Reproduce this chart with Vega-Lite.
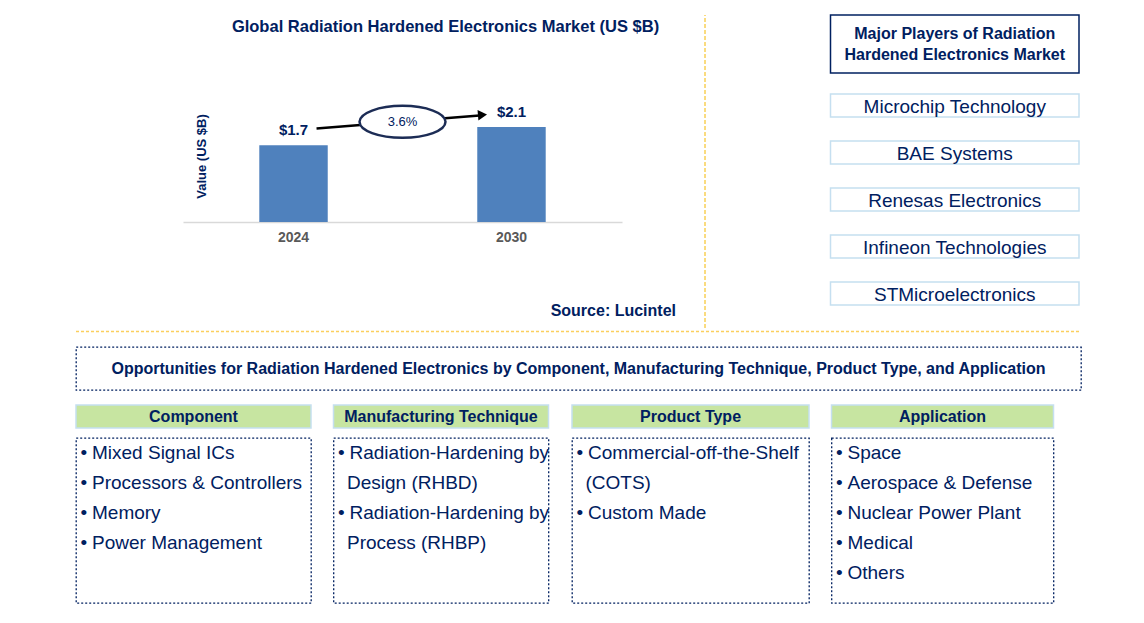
{
  "$schema": "https://vega.github.io/schema/vega-lite/v6.json",
  "background": "white",
  "padding": {"left": 75, "top": 14, "right": 0, "bottom": 0},
  "config": {"view": {"stroke": null}, "font": "Liberation Sans"},
  "datasets": {
    "market": [{"year": "2024", "value": 1.7}, {"year": "2030", "value": 2.1}],
    "cagr": [{"from": "2024", "to": "2030", "start": 1.7, "end": 2.1, "rate": "3.6%"}],
    "source": [{"text": "Source: Lucintel"}],
    "playersTitle": [{"text": "Major Players of Radiation\nHardened Electronics Market"}],
    "players": [
      {"player": "Microchip Technology"},
      {"player": "BAE Systems"},
      {"player": "Renesas Electronics"},
      {"player": "Infineon Technologies"},
      {"player": "STMicroelectronics"}
    ],
    "opportunity": [{"text": "Opportunities for Radiation Hardened Electronics by Component, Manufacturing Technique, Product Type, and Application"}],
    "segments": [
      {"segment": "Component"},
      {"segment": "Manufacturing Technique"},
      {"segment": "Product Type"},
      {"segment": "Application"}
    ],
    "lines": [
      {"segment": "Component", "line": 1, "first": true, "text": "Mixed Signal ICs"},
      {"segment": "Component", "line": 2, "first": true, "text": "Processors & Controllers"},
      {"segment": "Component", "line": 3, "first": true, "text": "Memory"},
      {"segment": "Component", "line": 4, "first": true, "text": "Power Management"},
      {"segment": "Manufacturing Technique", "line": 1, "first": true, "text": "Radiation-Hardening by"},
      {"segment": "Manufacturing Technique", "line": 2, "first": false, "text": "Design (RHBD)"},
      {"segment": "Manufacturing Technique", "line": 3, "first": true, "text": "Radiation-Hardening by"},
      {"segment": "Manufacturing Technique", "line": 4, "first": false, "text": "Process (RHBP)"},
      {"segment": "Product Type", "line": 1, "first": true, "text": "Commercial-off-the-Shelf"},
      {"segment": "Product Type", "line": 2, "first": false, "text": "(COTS)"},
      {"segment": "Product Type", "line": 3, "first": true, "text": "Custom Made"},
      {"segment": "Application", "line": 1, "first": true, "text": "Space"},
      {"segment": "Application", "line": 2, "first": true, "text": "Aerospace & Defense"},
      {"segment": "Application", "line": 3, "first": true, "text": "Nuclear Power Plant"},
      {"segment": "Application", "line": 4, "first": true, "text": "Medical"},
      {"segment": "Application", "line": 5, "first": true, "text": "Others"}
    ]
  },
  "spacing": 13,
  "vconcat": [
    {
      "spacing": 1.5,
      "vconcat": [
        {
          "spacing": 7,
          "hconcat": [
            {"width": 100, "height": 10, "view": {"fill": "white"}, "data": {"values": [{}]}, "mark": {"type": "point", "opacity": 0}},
            {
              "spacing": 123.5,
              "hconcat": [
                {
                  "spacing": 28,
                  "hconcat": [
                    {
                      "bounds": "flush",
                      "spacing": 79,
                      "vconcat": [
                        {
                          "width": 439,
                          "height": 207,
                          "view": {"fill": "white"},
                          "title": {"text": "Global Radiation Hardened Electronics Market (US $B)", "fontSize": 16.5, "fontWeight": "bold", "color": "#002060", "anchor": "middle", "dx": 43, "offset": -33, "baseline": "alphabetic"},
                          "data": {"name": "market"},
                          "encoding": {
                            "x": {"field": "year", "type": "ordinal", "scale": {"paddingInner": 0.686, "paddingOuter": 0.35},
                              "axis": {"title": null, "labelAngle": 0, "labelFontSize": 14, "labelFontWeight": "bold", "labelColor": "#595959", "labelPadding": 8, "ticks": false, "domainColor": "#d9d9d9", "domainWidth": 1.5, "grid": false}},
                            "y": {"field": "value", "type": "quantitative", "scale": {"domain": [0, 4.58], "nice": false},
                              "axis": {"title": "Value (US $B)", "labels": false, "ticks": false, "domain": false, "grid": false, "titleFontSize": 13, "titleFontWeight": "bold", "titleColor": "#002060", "titleX": 18, "titleY": 141, "titleAngle": -90, "titleAlign": "center", "titleBaseline": "middle"}}
                          },
                          "layer": [
                            {"mark": {"type": "bar", "color": "#4f81bd"}},
                            {"mark": {"type": "text", "baseline": "alphabetic", "dy": -10, "fontSize": 15, "fontWeight": "bold", "color": "#002060"},
                             "encoding": {"text": {"field": "value", "type": "quantitative", "format": "$.1f"}}},
                            {"data": {"name": "cagr"},
                             "mark": {"type": "rule", "color": "black", "strokeWidth": 2.5, "xOffset": 23, "yOffset": -16.6, "x2Offset": -32, "y2Offset": -11.7},
                             "encoding": {"x": {"field": "from", "type": "ordinal"}, "x2": {"field": "to"}, "y": {"field": "start", "type": "quantitative"}, "y2": {"field": "end"}}},
                            {"data": {"name": "cagr"},
                             "mark": {"type": "point", "shape": "triangle-right", "size": 110, "filled": true, "color": "black", "opacity": 1, "angle": -4.7, "xOffset": -29, "yOffset": -12.2},
                             "encoding": {"x": {"field": "to", "type": "ordinal"}, "y": {"field": "end", "type": "quantitative"}}},
                            {"data": {"name": "cagr"},
                             "mark": {"type": "point", "shape": "M-1,0A1,0.372,0,1,1,1,0A1,0.372,0,1,1,-1,0Z", "size": 7396, "filled": true, "fill": "white", "stroke": "#1c2c55", "strokeWidth": 2.5, "opacity": 1, "xOffset": 109, "yOffset": -23.3},
                             "encoding": {"x": {"field": "from", "type": "ordinal"}, "y": {"field": "start", "type": "quantitative"}}},
                            {"data": {"name": "cagr"},
                             "mark": {"type": "text", "fontSize": 13, "color": "#002060", "baseline": "middle", "dx": 109, "dy": -23.3},
                             "encoding": {"x": {"field": "from", "type": "ordinal"}, "y": {"field": "start", "type": "quantitative"}, "text": {"field": "rate"}}}
                          ]
                        },
                        {
                          "width": 493,
                          "height": 19,
                          "data": {"name": "source"},
                          "mark": {"type": "text", "align": "right", "baseline": "middle", "fontSize": 16, "fontWeight": "bold", "color": "#002060"},
                          "encoding": {"text": {"field": "text"}, "x": {"value": "width"}}
                        }
                      ]
                    },
                    {
                      "width": 1,
                      "height": 313,
                      "data": {"values": [{}]},
                      "mark": {"type": "rule", "color": "#f5b800", "strokeDash": [4, 2], "strokeWidth": 1},
                      "encoding": {
                        "x": {"datum": 0, "type": "quantitative", "scale": {"domain": [0, 1]}, "axis": null},
                        "y": {"datum": 0, "type": "quantitative", "scale": {"domain": [0, 1]}, "axis": null},
                        "y2": {"datum": 1}
                      }
                    }
                  ]
                },
                {
                  "spacing": 19,
                  "vconcat": [
                    {
                      "width": 248.5,
                      "height": 58,
                      "view": {"stroke": "#002060", "strokeWidth": 1.5},
                      "data": {"name": "playersTitle"},
                      "mark": {"type": "text", "fontSize": 16, "fontWeight": "bold", "color": "#002060", "lineHeight": 21, "baseline": "middle", "dy": -10.5, "lineBreak": "\n"},
                      "encoding": {"text": {"field": "text"}}
                    },
                    {
                      "width": 248.5,
                      "height": 211,
                      "data": {"name": "players"},
                      "encoding": {
                        "y": {"field": "player", "type": "nominal", "sort": null, "scale": {"paddingInner": 0.511, "paddingOuter": 0}, "axis": null}
                      },
                      "layer": [
                        {"mark": {"type": "rect", "fill": "white", "stroke": "#c5dff0", "strokeWidth": 1.5},
                         "encoding": {"x": {"datum": 0, "type": "quantitative", "scale": {"domain": [0, 1]}, "axis": null}, "x2": {"datum": 1}}},
                        {"mark": {"type": "text", "fontSize": 19, "color": "#002060", "baseline": "middle", "dy": 1.5},
                         "encoding": {"text": {"field": "player"}}}
                      ]
                    }
                  ]
                }
              ]
            }
          ]
        },
        {
          "width": 1005,
          "height": 1,
          "data": {"values": [{}]},
          "mark": {"type": "rule", "color": "#fbcf5d", "strokeDash": [3, 2], "strokeWidth": 1.5},
          "encoding": {
            "x": {"datum": 0, "type": "quantitative", "scale": {"domain": [0, 1]}, "axis": null},
            "x2": {"datum": 1},
            "y": {"datum": 1, "type": "quantitative", "scale": {"domain": [0, 1]}, "axis": null}
          }
        }
      ]
    },
    {
      "width": 1005,
      "height": 43,
      "view": {"stroke": "#002060", "strokeDash": [2, 2], "strokeWidth": 1.3},
      "data": {"name": "opportunity"},
      "mark": {"type": "text", "fontSize": 16, "fontWeight": "bold", "color": "#002060", "baseline": "middle"},
      "encoding": {"text": {"field": "text"}}
    },
    {
      "spacing": 20.5,
      "hconcat": [
        {
          "spacing": 8,
          "vconcat": [
            {"width": 235, "height": 23, "view": {"fill": "#c7e5a1", "stroke": "#c5dff0", "strokeWidth": 1.5},
             "data": {"name": "segments"}, "transform": [{"filter": "datum.segment === 'Component'"}],
             "mark": {"type": "text", "fontSize": 16, "fontWeight": "bold", "color": "#002060", "baseline": "middle"},
             "encoding": {"text": {"field": "segment"}}},
            {"width": 235, "height": 165, "view": {"stroke": "#002060", "strokeDash": [2, 2], "strokeWidth": 1.3},
             "data": {"name": "lines"}, "transform": [{"filter": "datum.segment === 'Component'"}],
             "encoding": {
               "y": {"field": "line", "type": "ordinal", "scale": {"type": "band", "domain": [1, 2, 3, 4, 5], "paddingInner": 0, "paddingOuter": 0.25, "align": 0}, "axis": null},
               "x": {"datum": 0, "type": "quantitative", "scale": {"domain": [0, 1]}, "axis": null}
             },
             "layer": [
               {"transform": [{"filter": "datum.first"}], "mark": {"type": "text", "text": "•", "align": "left", "baseline": "middle", "dx": 4.5, "fontSize": 19, "color": "#002060"}},
               {"transform": [{"filter": "datum.first"}], "mark": {"type": "text", "align": "left", "baseline": "middle", "dx": 16, "fontSize": 19, "color": "#002060"}, "encoding": {"text": {"field": "text"}}},
               {"transform": [{"filter": "!datum.first"}], "mark": {"type": "text", "align": "left", "baseline": "middle", "dx": 13.5, "fontSize": 19, "color": "#002060"}, "encoding": {"text": {"field": "text"}}}
             ]}
          ]
        },
        {
          "spacing": 8,
          "vconcat": [
            {"width": 215, "height": 23, "view": {"fill": "#c7e5a1", "stroke": "#c5dff0", "strokeWidth": 1.5},
             "data": {"name": "segments"}, "transform": [{"filter": "datum.segment === 'Manufacturing Technique'"}],
             "mark": {"type": "text", "fontSize": 16, "fontWeight": "bold", "color": "#002060", "baseline": "middle"},
             "encoding": {"text": {"field": "segment"}}},
            {"width": 215, "height": 165, "view": {"stroke": "#002060", "strokeDash": [2, 2], "strokeWidth": 1.3},
             "data": {"name": "lines"}, "transform": [{"filter": "datum.segment === 'Manufacturing Technique'"}],
             "encoding": {
               "y": {"field": "line", "type": "ordinal", "scale": {"type": "band", "domain": [1, 2, 3, 4, 5], "paddingInner": 0, "paddingOuter": 0.25, "align": 0}, "axis": null},
               "x": {"datum": 0, "type": "quantitative", "scale": {"domain": [0, 1]}, "axis": null}
             },
             "layer": [
               {"transform": [{"filter": "datum.first"}], "mark": {"type": "text", "text": "•", "align": "left", "baseline": "middle", "dx": 4.5, "fontSize": 19, "color": "#002060"}},
               {"transform": [{"filter": "datum.first"}], "mark": {"type": "text", "align": "left", "baseline": "middle", "dx": 16, "fontSize": 19, "color": "#002060"}, "encoding": {"text": {"field": "text"}}},
               {"transform": [{"filter": "!datum.first"}], "mark": {"type": "text", "align": "left", "baseline": "middle", "dx": 13.5, "fontSize": 19, "color": "#002060"}, "encoding": {"text": {"field": "text"}}}
             ]}
          ]
        },
        {
          "spacing": 8,
          "vconcat": [
            {"width": 237, "height": 23, "view": {"fill": "#c7e5a1", "stroke": "#c5dff0", "strokeWidth": 1.5},
             "data": {"name": "segments"}, "transform": [{"filter": "datum.segment === 'Product Type'"}],
             "mark": {"type": "text", "fontSize": 16, "fontWeight": "bold", "color": "#002060", "baseline": "middle"},
             "encoding": {"text": {"field": "segment"}}},
            {"width": 237, "height": 165, "view": {"stroke": "#002060", "strokeDash": [2, 2], "strokeWidth": 1.3},
             "data": {"name": "lines"}, "transform": [{"filter": "datum.segment === 'Product Type'"}],
             "encoding": {
               "y": {"field": "line", "type": "ordinal", "scale": {"type": "band", "domain": [1, 2, 3, 4, 5], "paddingInner": 0, "paddingOuter": 0.25, "align": 0}, "axis": null},
               "x": {"datum": 0, "type": "quantitative", "scale": {"domain": [0, 1]}, "axis": null}
             },
             "layer": [
               {"transform": [{"filter": "datum.first"}], "mark": {"type": "text", "text": "•", "align": "left", "baseline": "middle", "dx": 4.5, "fontSize": 19, "color": "#002060"}},
               {"transform": [{"filter": "datum.first"}], "mark": {"type": "text", "align": "left", "baseline": "middle", "dx": 16, "fontSize": 19, "color": "#002060"}, "encoding": {"text": {"field": "text"}}},
               {"transform": [{"filter": "!datum.first"}], "mark": {"type": "text", "align": "left", "baseline": "middle", "dx": 13.5, "fontSize": 19, "color": "#002060"}, "encoding": {"text": {"field": "text"}}}
             ]}
          ]
        },
        {
          "spacing": 8,
          "vconcat": [
            {"width": 222, "height": 23, "view": {"fill": "#c7e5a1", "stroke": "#c5dff0", "strokeWidth": 1.5},
             "data": {"name": "segments"}, "transform": [{"filter": "datum.segment === 'Application'"}],
             "mark": {"type": "text", "fontSize": 16, "fontWeight": "bold", "color": "#002060", "baseline": "middle"},
             "encoding": {"text": {"field": "segment"}}},
            {"width": 222, "height": 165, "view": {"stroke": "#002060", "strokeDash": [2, 2], "strokeWidth": 1.3},
             "data": {"name": "lines"}, "transform": [{"filter": "datum.segment === 'Application'"}],
             "encoding": {
               "y": {"field": "line", "type": "ordinal", "scale": {"type": "band", "domain": [1, 2, 3, 4, 5], "paddingInner": 0, "paddingOuter": 0.25, "align": 0}, "axis": null},
               "x": {"datum": 0, "type": "quantitative", "scale": {"domain": [0, 1]}, "axis": null}
             },
             "layer": [
               {"transform": [{"filter": "datum.first"}], "mark": {"type": "text", "text": "•", "align": "left", "baseline": "middle", "dx": 4.5, "fontSize": 19, "color": "#002060"}},
               {"transform": [{"filter": "datum.first"}], "mark": {"type": "text", "align": "left", "baseline": "middle", "dx": 16, "fontSize": 19, "color": "#002060"}, "encoding": {"text": {"field": "text"}}},
               {"transform": [{"filter": "!datum.first"}], "mark": {"type": "text", "align": "left", "baseline": "middle", "dx": 13.5, "fontSize": 19, "color": "#002060"}, "encoding": {"text": {"field": "text"}}}
             ]}
          ]
        }
      ]
    }
  ]
}
